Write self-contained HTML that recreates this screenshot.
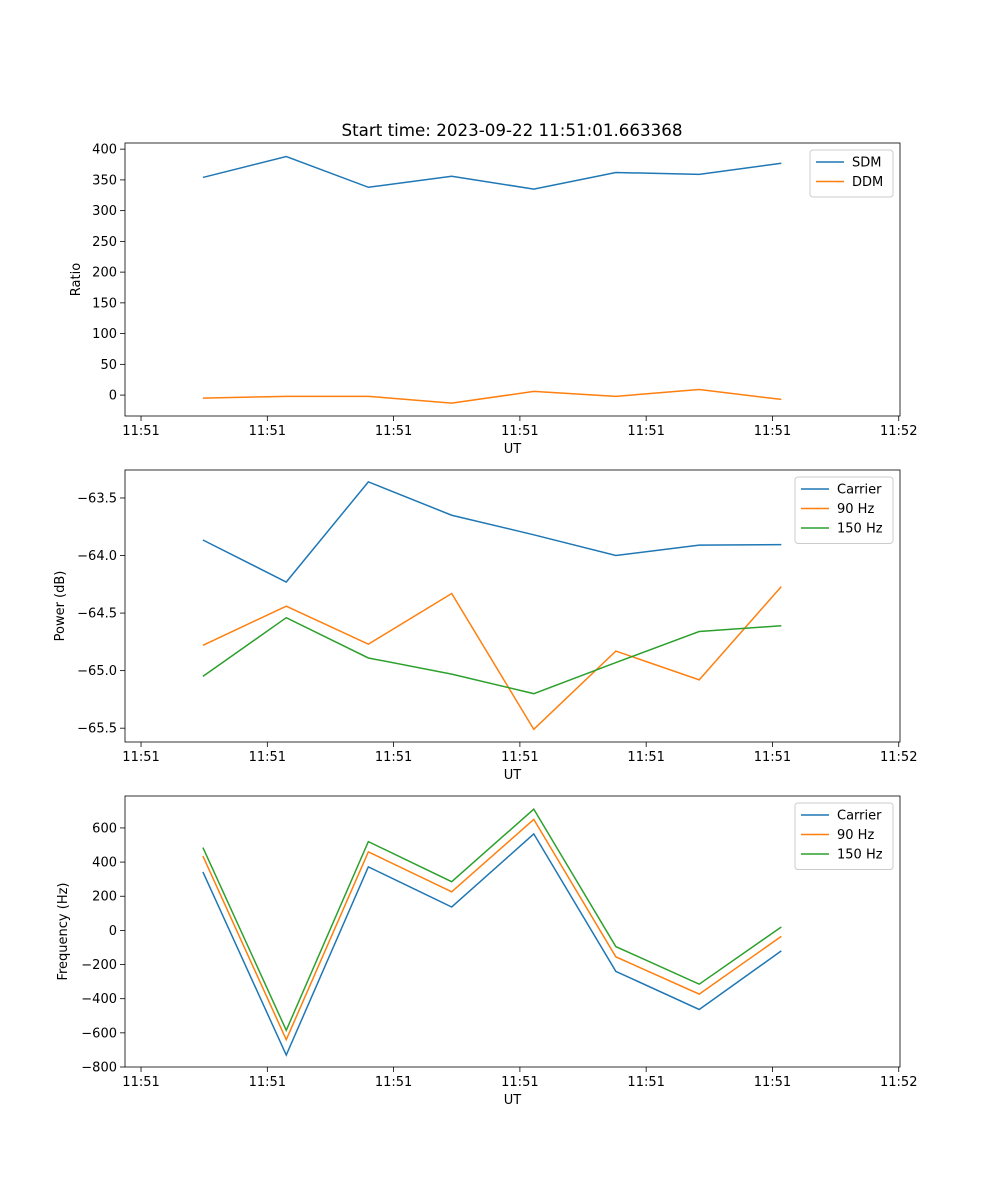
<!DOCTYPE html>
<html><head><meta charset="utf-8"><style>
body{margin:0;background:#fff}
svg{display:block;font-family:"DejaVu Sans","Liberation Sans",sans-serif}
</style></head><body>
<svg id="fig" width="1000" height="1200" xmlns="http://www.w3.org/2000/svg"></svg>
<script>
const times = [4.9, 11.5, 18.0, 24.6, 31.1, 37.6, 44.2, 50.7];
const xTickVals = [0, 10, 20, 30, 40, 50, 60];
const xTickLabels = ["11:51","11:51","11:51","11:51","11:51","11:51","11:52"];
const sdm = [354, 388, 338, 356, 335, 362, 359, 377];
const ddm = [-5, -2, -2, -13, 6, -2, 9, -7];
const powCarrier = [-63.865, -64.23, -63.36, -63.65, -63.82, -64.0, -63.91, -63.905];
const pow90 = [-64.78, -64.44, -64.77, -64.33, -65.51, -64.83, -65.08, -64.27];
const pow150 = [-65.05, -64.54, -64.89, -65.03, -65.2, -64.93, -64.66, -64.61];
const freqCarrier = [342, -730, 372, 137, 565, -240, -463, -120];
const freq90 = [435, -640, 460, 226, 650, -155, -373, -35];
const freq150 = [485, -585, 520, 285, 710, -95, -315, 20];
const ratioTicks = [0,50,100,150,200,250,300,350,400];
const powTicks = [-65.5,-65.0,-64.5,-64.0,-63.5];
const freqTicks = [-800,-600,-400,-200,0,200,400,600];

const NS="http://www.w3.org/2000/svg";
const svg=document.getElementById('fig');
function el(tag,attrs,parent){const e=document.createElementNS(NS,tag);for(const k in attrs)e.setAttribute(k,attrs[k]);(parent||svg).appendChild(e);return e;}
const C1="#1f77b4",C2="#ff7f0e",C3="#2ca02c";
const L=125,R=900,xmin=-1.27,xmax=60.1;
function xs(v){return L+(v-xmin)/(xmax-xmin)*(R-L);}

function panel(name,top,bot,ymin,ymax,ticks,fmt,ylabel,ylabelX,series,legend){
  const g=el('g',{});
  
  
  const ys=v=>bot-(v-ymin)/(ymax-ymin)*(bot-top);
  xTickVals.forEach((t,i)=>{const x=xs(t);
    el('line',{x1:x,x2:x,y1:bot,y2:bot+5,stroke:'#000','stroke-width':0.8},g);
    const tx=el('text',{x:x,y:bot+19,'text-anchor':'middle','font-size':13},g);tx.textContent=xTickLabels[i];
    });
  ticks.forEach(t=>{const y=ys(t);
    el('line',{x1:L-5,x2:L,y1:y,y2:y,stroke:'#000','stroke-width':0.8},g);
    const tx=el('text',{x:L-8,y:y+4.5,'text-anchor':'end','font-size':13},g);tx.textContent=fmt(t).replace('-','\u2212');
    });
  series.forEach(s=>{const p=el('polyline',{points:times.map((t,i)=>xs(t)+','+ys(s.v[i])).join(' '),fill:'none',stroke:s.c,'stroke-width':1.5},g);
    });
  el('rect',{x:L,y:top,width:R-L,height:bot-top,fill:'none',stroke:'#000','stroke-width':0.8},g);
  const xl=el('text',{x:(L+R)/2,y:bot+37,'text-anchor':'middle','font-size':13},g);xl.textContent='UT';
  
  const yl=el('text',{x:ylabelX,y:(top+bot)/2,'text-anchor':'middle','font-size':13,transform:`rotate(-90 ${ylabelX} ${(top+bot)/2})`},g);yl.textContent=ylabel;
  
  const lg=el('g',{},g);
  
  el('rect',{x:legend.x,y:top+7,width:R-7-legend.x,height:series.length*19.5+8,rx:3,fill:'#fff',stroke:'#ccc','stroke-width':1},lg);
  series.forEach((s,i)=>{const y=top+19+i*19.5;
    el('line',{x1:legend.x+6,x2:legend.x+34,y1:y,y2:y,stroke:s.c,'stroke-width':1.5},lg);
    const t=el('text',{x:legend.x+42,y:y+4.5,'font-size':13},lg);t.textContent=s.label;
    });
}
const title=el('text',{x:512,y:136,'text-anchor':'middle','font-size':16.7});
title.textContent='Start time: 2023-09-22 11:51:01.663368';

panel('ratio-panel',143,416,-34,410,ratioTicks,v=>String(v),'Ratio',80,
  [{v:sdm,c:C1,n:'sdm-line',label:'SDM'},{v:ddm,c:C2,n:'ddm-line',label:'DDM'}],{x:810});
panel('power-panel',470,742,-65.62,-63.257,powTicks,v=>v.toFixed(1),'Power (dB)',64,
  [{v:powCarrier,c:C1,n:'power-carrier-line',label:'Carrier'},{v:pow90,c:C2,n:'power-90hz-line',label:'90 Hz'},{v:pow150,c:C3,n:'power-150hz-line',label:'150 Hz'}],{x:795});
panel('frequency-panel',796,1067,-800,787,freqTicks,v=>String(v),'Frequency (Hz)',67,
  [{v:freqCarrier,c:C1,n:'freq-carrier-line',label:'Carrier'},{v:freq90,c:C2,n:'freq-90hz-line',label:'90 Hz'},{v:freq150,c:C3,n:'freq-150hz-line',label:'150 Hz'}],{x:795});
</script>
</body></html>
